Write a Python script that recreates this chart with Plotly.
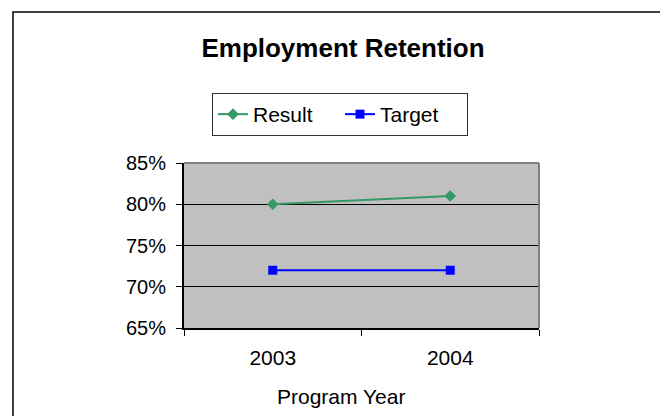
import plotly.graph_objects as go

# Employment retention by program year
years = ["2003", "2004"]
result = [0.80, 0.81]
target = [0.72, 0.72]
y_ticks = [0.65, 0.70, 0.75, 0.80, 0.85]

FONT = "Arial, 'Liberation Sans', sans-serif"
W, H = 660, 416
L, R, T, B = 184, 121, 163, 88
PW, PH = W - L - R, H - T - B


def px_x(x):
    return (x - L) / PW


def px_y(y):
    return (H - B - y) / PH


fig = go.Figure()
fig.add_trace(go.Scatter(
    x=years, y=result, name="Result", mode="lines+markers",
    line=dict(color="#339966", width=2),
    marker=dict(symbol="diamond", size=9, color="#339966"),
))
fig.add_trace(go.Scatter(
    x=years, y=target, name="Target", mode="lines+markers",
    line=dict(color="#0000FF", width=2),
    marker=dict(symbol="square", size=9, color="#0000FF"),
))

fig.update_layout(
    width=W, height=H,
    margin=dict(l=L, r=R, t=T, b=B, pad=0),
    paper_bgcolor="white",
    plot_bgcolor="#C0C0C0",
    font=dict(family=FONT, color="black", size=20),
    title=dict(
        text="<b>Employment Retention</b>",
        font=dict(family=FONT, size=26, color="black"),
        x=px_x(343), xref="paper", xanchor="center",
        y=1 - 47.5 / H, yref="container", yanchor="middle",
    ),
    showlegend=True,
    legend=dict(
        orientation="h",
        x=px_x(212), xanchor="left",
        y=px_y(93), yanchor="top",
        bordercolor="#333333", borderwidth=1,
        bgcolor="white",
        entrywidth=82, entrywidthmode="pixels",
        font=dict(family=FONT, size=21, color="black"),
    ),
    xaxis=dict(
        type="category", range=[-0.5, 1.5],
        showgrid=False, showline=True, linecolor="black", linewidth=2,
        ticks="outside", ticklen=6, tickwidth=1, tickcolor="black",
        tickson="boundaries", ticklabelstandoff=10,
        tickfont=dict(family=FONT, size=21, color="black"),
        fixedrange=True,
    ),
    yaxis=dict(
        range=[0.65, 0.85], tickvals=y_ticks, tickformat=".0%",
        showgrid=True, gridcolor="black", gridwidth=1,
        showline=True, linecolor="black", linewidth=2,
        ticks="outside", ticklen=6, tickwidth=1, tickcolor="black",
        ticklabelstandoff=6,
        tickfont=dict(family=FONT, size=20, color="black"),
        zeroline=False, fixedrange=True,
    ),
    annotations=[dict(
        text="Program Year", showarrow=False,
        xref="paper", yref="paper",
        x=px_x(341), y=px_y(396), xanchor="center", yanchor="middle",
        font=dict(family=FONT, size=21, color="black"),
    )],
    shapes=[
        # gray top and right edges of the plot area
        dict(type="line", xref="x domain", yref="y domain",
             x0=0, x1=1, y0=1, y1=1, line=dict(color="#808080", width=2),
             layer="above"),
        dict(type="line", xref="x domain", yref="y domain",
             x0=1, x1=1, y0=0, y1=1, line=dict(color="#808080", width=2),
             layer="above"),
        # outer chart border
        dict(type="rect", xref="paper", yref="paper",
             x0=px_x(13), x1=px_x(W + 20), y0=px_y(H + 20), y1=px_y(12),
             line=dict(color="black", width=1.5), layer="above"),
    ],
)

fig.write_html("out.html")
